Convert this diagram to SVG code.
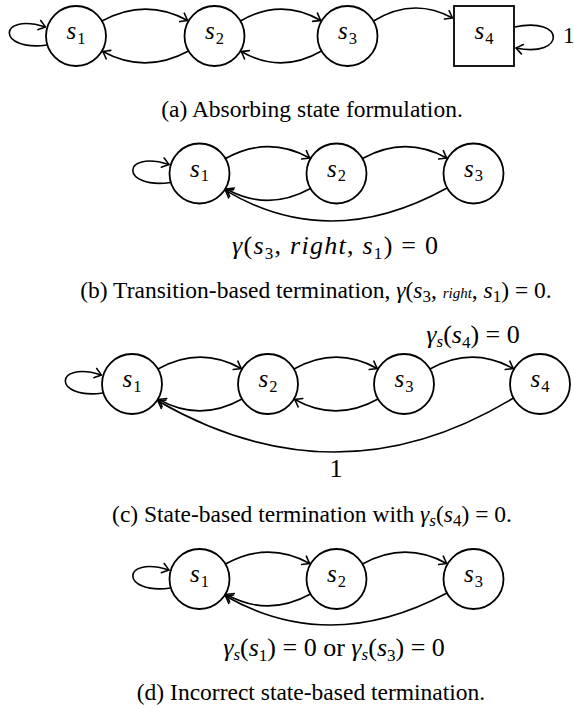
<svg xmlns="http://www.w3.org/2000/svg" width="574" height="709" viewBox="0 0 574 709">
<style>
text { font-family: "Liberation Serif", "Times New Roman", serif; fill: #000; }
.n { fill: #fff; stroke: #000; stroke-width: 1.8; }
.e { fill: none; stroke: #000; stroke-width: 1.6; marker-end: url(#arr); }
.cap { font-size: 23.5px; text-anchor: middle; }
.lab { font-size: 26px; text-anchor: middle; }
.nl { font-size: 25px; text-anchor: middle; }
.i { font-style: italic; }
.sub { font-size: 17px; }
.sc { font-size: 16.5px; }
.tiny { font-size: 15px; font-style: italic; }
</style>
<defs>
<marker id="arr" viewBox="-8 -6 9 12" refX="0" refY="0" markerWidth="9" markerHeight="12" markerUnits="userSpaceOnUse" orient="auto">
<path d="M-6.5,-4.8 C-3.5,-2.6 -1.2,-0.8 0,0 C-1.2,0.8 -3.5,2.6 -6.5,4.8" fill="none" stroke="#000" stroke-width="1.6" stroke-linecap="round"/>
</marker>
</defs>

<!-- Panel (a) -->
<g id="a-s1"><circle class="n" cx="76" cy="36" r="30"/><text class="nl" x="76" y="39"><tspan class="i">s</tspan><tspan class="sc" dx="1" dy="4.5">1</tspan></text></g>
<g id="a-s2"><circle class="n" cx="214.5" cy="36" r="30"/><text class="nl" x="214.5" y="39"><tspan class="i">s</tspan><tspan class="sc" dx="1" dy="4.5">2</tspan></text></g>
<g id="a-s3"><circle class="n" cx="347.5" cy="36" r="30"/><text class="nl" x="347.5" y="39"><tspan class="i">s</tspan><tspan class="sc" dx="1" dy="4.5">3</tspan></text></g>
<g id="a-s4"><rect class="n" x="454" y="6" width="60" height="60"/><text class="nl" x="484" y="39"><tspan class="i">s</tspan><tspan class="sc" dx="1" dy="4.5">4</tspan></text></g>
<g id="a-edges">
<path class="e" d="M47,45 C-3,52 -3,12 45.5,27"/>
<path class="e" d="M102,21 Q145.25,-2.5 187.7,20.5"/>
<path class="e" d="M188.5,51 Q145.25,74.5 102.8,51.5"/>
<path class="e" d="M240.5,21 Q281,-2.5 320.7,20.5"/>
<path class="e" d="M321.5,51 Q281,74.5 241.3,51.5"/>
<path class="e" d="M373.5,21 Q413.5,-3.5 452.5,18"/>
<path class="e" d="M514.5,27 C566,16 566,58 516,48"/>
</g>
<text x="563" y="43" font-size="23">1</text>
<text class="cap" x="312" y="117">(a) Absorbing state formulation.</text>

<!-- Panel (b) -->
<g id="b-s1"><circle class="n" cx="199.5" cy="173.5" r="30"/><text class="nl" x="199.5" y="176.5"><tspan class="i">s</tspan><tspan class="sc" dx="1" dy="4.5">1</tspan></text></g>
<g id="b-s2"><circle class="n" cx="336.5" cy="173.5" r="30"/><text class="nl" x="336.5" y="176.5"><tspan class="i">s</tspan><tspan class="sc" dx="1" dy="4.5">2</tspan></text></g>
<g id="b-s3"><circle class="n" cx="473.5" cy="173.5" r="30"/><text class="nl" x="473.5" y="176.5"><tspan class="i">s</tspan><tspan class="sc" dx="1" dy="4.5">3</tspan></text></g>
<g id="b-edges">
<path class="e" d="M170.5,182.5 C120.5,189.5 120.5,149.5 169,164.5"/>
<path class="e" d="M225.5,158.5 Q268,135 309.7,158"/>
<path class="e" d="M310.5,188.5 Q268,212 226.3,189"/>
<path class="e" d="M362.5,158.5 Q405,135 446.7,158"/>
<path class="e" d="M447,188 Q330,252.8 225.5,190.4"/>
</g>
<text class="lab" x="335" y="254" textLength="206" lengthAdjust="spacing"><tspan class="i">γ</tspan>(<tspan class="i">s</tspan><tspan class="sub" dy="5">3</tspan><tspan dy="-5">, </tspan><tspan class="i">right</tspan>, <tspan class="i">s</tspan><tspan class="sub" dy="5">1</tspan><tspan dy="-5">) = 0</tspan></text>
<text class="cap" x="316" y="298">(b) Transition-based termination, <tspan class="i">γ</tspan>(<tspan class="i">s</tspan><tspan class="sub" dy="4">3</tspan><tspan dy="-4">, </tspan><tspan class="tiny">right</tspan>, <tspan class="i">s</tspan><tspan class="sub" dy="4">1</tspan><tspan dy="-4">) = 0.</tspan></text>

<!-- Panel (c) -->
<g id="c-s1"><circle class="n" cx="132" cy="384" r="30"/><text class="nl" x="132" y="387"><tspan class="i">s</tspan><tspan class="sc" dx="1" dy="4.5">1</tspan></text></g>
<g id="c-s2"><circle class="n" cx="268" cy="384" r="30"/><text class="nl" x="268" y="387"><tspan class="i">s</tspan><tspan class="sc" dx="1" dy="4.5">2</tspan></text></g>
<g id="c-s3"><circle class="n" cx="404" cy="384" r="30"/><text class="nl" x="404" y="387"><tspan class="i">s</tspan><tspan class="sc" dx="1" dy="4.5">3</tspan></text></g>
<g id="c-s4"><circle class="n" cx="540" cy="384" r="30"/><text class="nl" x="540" y="387"><tspan class="i">s</tspan><tspan class="sc" dx="1" dy="4.5">4</tspan></text></g>
<g id="c-edges">
<path class="e" d="M103,393 C53,400 53,360 101.5,375"/>
<path class="e" d="M158,369 Q200,345.5 241.2,368.5"/>
<path class="e" d="M242,399 Q200,422.5 158.8,399.5"/>
<path class="e" d="M294,369 Q336,345.5 377.2,368.5"/>
<path class="e" d="M378,399 Q336,422.5 294.8,399.5"/>
<path class="e" d="M430,369 Q472,345.5 513.2,368.5"/>
<path class="e" d="M513.5,398 Q338,504.5 158,401"/>
</g>
<text class="lab" x="473" y="343"><tspan class="i">γ</tspan><tspan class="sub i" dy="4">s</tspan><tspan dy="-4">(</tspan><tspan class="i">s</tspan><tspan class="sub" dy="5">4</tspan><tspan dy="-5">) = 0</tspan></text>
<text class="lab" x="336" y="477">1</text>
<text class="cap" x="312" y="522">(c) State-based termination with <tspan class="i">γ</tspan><tspan class="sub i" dy="4">s</tspan><tspan dy="-4">(</tspan><tspan class="i">s</tspan><tspan class="sub" dy="4">4</tspan><tspan dy="-4">) = 0.</tspan></text>

<!-- Panel (d) -->
<g id="d-s1"><circle class="n" cx="199.5" cy="579" r="30"/><text class="nl" x="199.5" y="582"><tspan class="i">s</tspan><tspan class="sc" dx="1" dy="4.5">1</tspan></text></g>
<g id="d-s2"><circle class="n" cx="336.5" cy="579" r="30"/><text class="nl" x="336.5" y="582"><tspan class="i">s</tspan><tspan class="sc" dx="1" dy="4.5">2</tspan></text></g>
<g id="d-s3"><circle class="n" cx="473.5" cy="579" r="30"/><text class="nl" x="473.5" y="582"><tspan class="i">s</tspan><tspan class="sc" dx="1" dy="4.5">3</tspan></text></g>
<g id="d-edges">
<path class="e" d="M170.5,588 C120.5,595 120.5,555 169,570"/>
<path class="e" d="M225.5,564 Q268,540.5 309.7,563.5"/>
<path class="e" d="M310.5,594 Q268,617.5 226.3,594.5"/>
<path class="e" d="M362.5,564 Q405,540.5 446.7,563.5"/>
<path class="e" d="M447,593 Q330,655.5 225.5,596"/>
</g>
<text class="lab" x="334" y="656"><tspan class="i">γ</tspan><tspan class="sub i" dy="4">s</tspan><tspan dy="-4">(</tspan><tspan class="i">s</tspan><tspan class="sub" dy="5">1</tspan><tspan dy="-5">) = 0 or </tspan><tspan class="i">γ</tspan><tspan class="sub i" dy="4">s</tspan><tspan dy="-4">(</tspan><tspan class="i">s</tspan><tspan class="sub" dy="5">3</tspan><tspan dy="-5">) = 0</tspan></text>
<text class="cap" x="311" y="700">(d) Incorrect state-based termination.</text>
</svg>
